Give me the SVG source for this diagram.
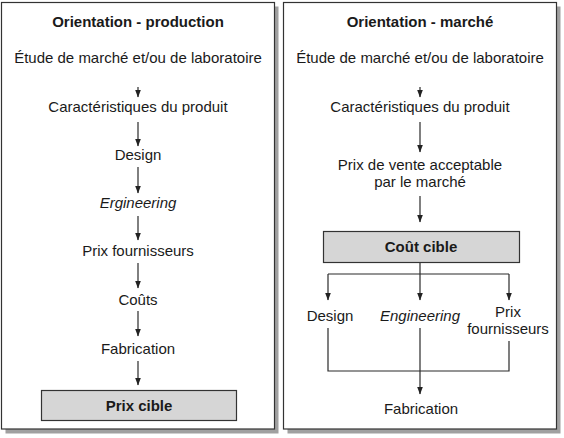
<svg xmlns="http://www.w3.org/2000/svg" width="564" height="438" viewBox="0 0 564 438">
<style>
text{font-family:"Liberation Sans",Arial,sans-serif;font-size:15px;fill:#1a1a1a;text-anchor:middle}
.b{font-weight:bold}
.i{font-style:italic}
.panel{fill:#fff;stroke:#333;stroke-width:1.2}
.shadow{fill:#a0a0a0}
.box{fill:#d6d6d6;stroke:#333;stroke-width:1.2}
.c{fill:none;stroke:#2a2a2a;stroke-width:1.2}
</style>
<defs>
<marker id="ah" viewBox="0 0 8 10" refX="7.5" refY="5" markerWidth="8" markerHeight="10" markerUnits="userSpaceOnUse" orient="auto">
<path d="M0,2 L8,5 L0,8 Z" fill="#222"/>
</marker>
</defs>
<g id="panel-left">
<rect class="shadow" x="5.5" y="6.5" width="273" height="427"/>
<rect class="panel" x="1.5" y="2.5" width="273" height="426.5"/>
</g>
<g id="panel-right">
<rect class="shadow" x="287.5" y="6.5" width="273" height="427"/>
<rect class="panel" x="283.5" y="2.5" width="273" height="426.5"/>
</g>
<g id="l-title"><text class="b" x="138" y="27">Orientation - production</text></g>
<g id="l-etude"><text x="138" y="63">Étude de marché et/ou de laboratoire</text></g>
<g id="l-carac"><text x="138" y="112">Caractéristiques du produit</text></g>
<g id="l-design"><text x="138" y="160">Design</text></g>
<g id="l-eng"><text class="i" x="138" y="208">Ergineering</text></g>
<g id="l-prix"><text x="138" y="256">Prix fournisseurs</text></g>
<g id="l-couts"><text x="138" y="305">Coûts</text></g>
<g id="l-fab"><text x="138" y="354">Fabrication</text></g>
<g id="l-cible"><rect class="box" x="41.5" y="390.5" width="195" height="30"/><text class="b" x="139" y="411">Prix cible</text></g>
<g id="r-title"><text class="b" x="420" y="27">Orientation - marché</text></g>
<g id="r-etude"><text x="420" y="63">Étude de marché et/ou de laboratoire</text></g>
<g id="r-carac"><text x="420" y="112">Caractéristiques du produit</text></g>
<g id="r-prixvente"><text x="420" y="170">Prix de vente acceptable</text><text x="420" y="187">par le marché</text></g>
<g id="r-cout"><rect class="box" x="323.5" y="231.5" width="196" height="31"/><text class="b" x="421" y="252">Coût cible</text></g>
<g id="r-design"><text x="330" y="321">Design</text></g>
<g id="r-eng"><text class="i" x="420" y="321">Engineering</text></g>
<g id="r-prixf"><text x="508" y="317">Prix</text><text x="508" y="334">fournisseurs</text></g>
<g id="r-fab"><text x="421" y="414">Fabrication</text></g>
<g id="connectors">
<line class="c" x1="138" y1="87" x2="138" y2="97" marker-end="url(#ah)"/>
<line class="c" x1="138" y1="122" x2="138" y2="146" marker-end="url(#ah)"/>
<line class="c" x1="138" y1="167" x2="138" y2="193" marker-end="url(#ah)"/>
<line class="c" x1="138" y1="216" x2="138" y2="240" marker-end="url(#ah)"/>
<line class="c" x1="138" y1="263" x2="138" y2="288" marker-end="url(#ah)"/>
<line class="c" x1="138" y1="311" x2="138" y2="336" marker-end="url(#ah)"/>
<line class="c" x1="138" y1="361" x2="138" y2="385" marker-end="url(#ah)"/>
<line class="c" x1="420" y1="87" x2="420" y2="97" marker-end="url(#ah)"/>
<line class="c" x1="420" y1="122" x2="420" y2="152" marker-end="url(#ah)"/>
<line class="c" x1="420" y1="196" x2="420" y2="222" marker-end="url(#ah)"/>
<polyline class="c" points="420,263 420,274"/>
<line class="c" x1="328" y1="274" x2="509" y2="274"/>
<line class="c" x1="328" y1="274" x2="328" y2="300" marker-end="url(#ah)"/>
<line class="c" x1="420" y1="274" x2="420" y2="300" marker-end="url(#ah)"/>
<line class="c" x1="509" y1="274" x2="509" y2="300" marker-end="url(#ah)"/>
<polyline class="c" points="328,328 328,371 509,371 509,341"/>
<line class="c" x1="420" y1="328" x2="420" y2="394" marker-end="url(#ah)"/>
</g>
</svg>
